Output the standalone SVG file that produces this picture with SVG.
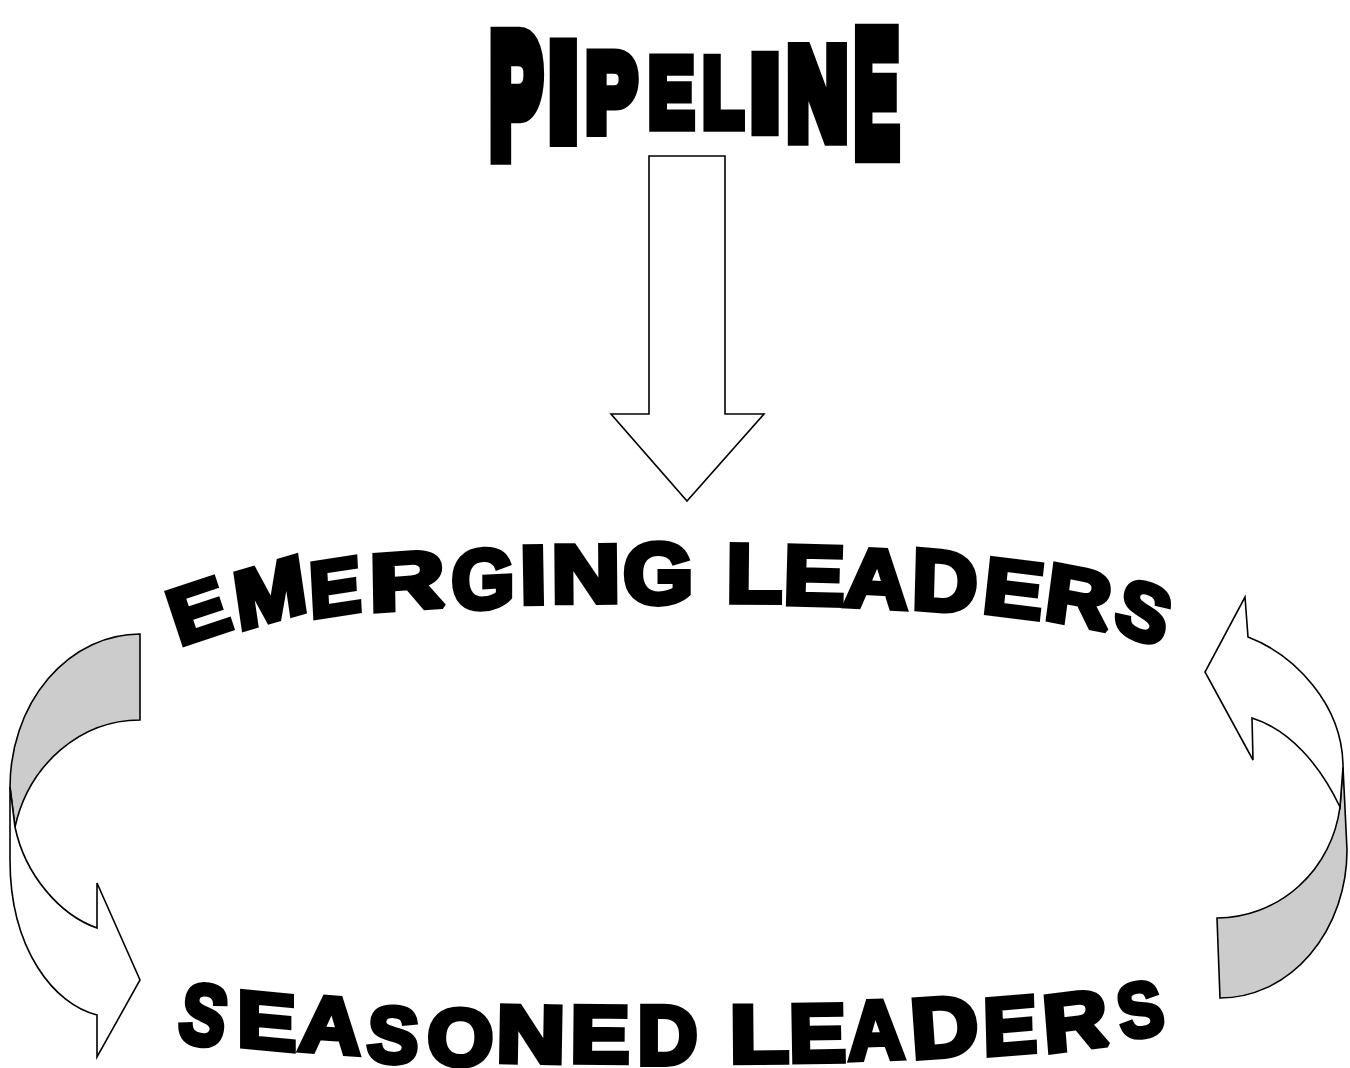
<svg xmlns="http://www.w3.org/2000/svg" width="1350" height="1068" viewBox="0 0 1350 1068">
<style>
.t{font-family:"Liberation Sans",Arial,sans-serif;font-weight:bold;font-size:100px;text-anchor:middle;fill:#000;stroke:#000;stroke-linejoin:miter;stroke-miterlimit:2}
.p{stroke-width:12}
.w{stroke-width:7}
.blk{fill:#fff;stroke:#000;stroke-width:1.6;stroke-linejoin:miter}
.gry{fill:#ccc;stroke:#000;stroke-width:1.6;stroke-linejoin:miter}
</style>
<rect width="1350" height="1068" fill="#fff"/>
<g id="connectors">
  <g id="arrow-down">
    <path class="blk" d="M649,156 H725 V414 H764 L687,501 L611,414 H649 Z"/>
  </g>
  <g id="cycle-left">
    <path class="gry" d="M140,634 A130,153 0 0 0 10,787 L15,827 A128.6,140 0 0 1 140,720 Z"/>
    <path class="blk" d="M10,787 L10,860 C10,950 55,1005 97,1015 L97,1057 L140,980 L97,883 L97,928 C60,915 25,875 15,827 Z"/>
  </g>
  <g id="cycle-right">
    <path class="gry" d="M1343,767 L1347,850 A127,148 0 0 1 1220,998 L1217,918 A124.4,128 0 0 0 1340,807 Z"/>
    <path class="blk" d="M1248,637 C1295,655 1343,705 1343,767 L1340,807 C1320,765 1290,730 1252,718 L1253,760 L1205,672 L1245,597 Z"/>
  </g>
</g>
<g id="pipeline">
  <text class="t p" y="35.8" transform="translate(516 93.5) scale(0.782 1.699)">P</text>
  <text class="t p" y="35.8" transform="translate(563.3 91) scale(1.031 1.352)">I</text>
  <text class="t p" y="35.8" transform="translate(611.3 91.5) scale(0.762 1.094)">P</text>
  <text class="t p" y="35.8" transform="translate(671.3 91.2) scale(0.674 0.969)">E</text>
  <text class="t p" y="35.8" transform="translate(723 91.2) scale(0.656 0.969)">L</text>
  <text class="t p" y="35.8" transform="translate(765 92) scale(1.031 1.053)">I</text>
  <text class="t p" y="35.8" transform="translate(817.5 91.8) scale(0.835 1.286)">N</text>
  <text class="t p" y="35.8" transform="translate(876.7 91) scale(0.663 1.722)">E</text>
</g>
<g id="emerging-leaders">
  <text class="t w" y="35.8" transform="translate(198 610) rotate(-18.4) scale(0.874 0.784)">E</text>
  <text class="t w" y="35.8" transform="translate(270 591.5) rotate(-16.4) skewX(-8) scale(0.88 0.802)">M</text>
  <text class="t w" y="35.8" transform="translate(335 586.5) rotate(-8.8) skewX(-5.8) scale(0.779 0.776)">E</text>
  <text class="t w" y="35.8" transform="translate(407 580) rotate(-4) skewX(-3) scale(1.04 0.802)">R</text>
  <text class="t w" y="35.8" transform="translate(483 578) rotate(-3) skewX(-3) scale(0.809 0.83)">G</text>
  <text class="t w" y="35.8" transform="translate(533.3 574) rotate(-1) scale(0.957 0.818)">I</text>
  <text class="t w" y="35.8" transform="translate(585.8 572.8) rotate(-0.5) scale(0.952 0.818)">N</text>
  <text class="t w" y="35.8" transform="translate(658.3 572.2) scale(0.899 0.85)">G</text>
  <text class="t w" y="35.8" transform="translate(754.2 572.5) rotate(0.5) scale(0.907 0.827)">L</text>
  <text class="t w" y="35.8" transform="translate(814.2 574.5) rotate(1.5) scale(0.912 0.835)">E</text>
  <text class="t w" y="35.8" transform="translate(876.7 577.5) rotate(3) scale(0.884 0.827)">A</text>
  <text class="t w" y="35.8" transform="translate(945 580) rotate(4.5) skewX(3) scale(0.906 0.852)">D</text>
  <text class="t w" y="35.8" transform="translate(1014 587.5) rotate(7.1) skewX(1) scale(0.895 0.789)">E</text>
  <text class="t w" y="35.8" transform="translate(1079 596) rotate(11) skewX(3.5) scale(0.909 0.802)">R</text>
  <text class="t w" y="35.8" transform="translate(1144 611) rotate(21) skewX(5) scale(0.795 0.789)">S</text>
</g>
<g id="seasoned-leaders">
  <text class="t w" y="35.8" transform="translate(204 1014) rotate(10) scale(0.688 0.852)">S</text>
  <text class="t w" y="35.8" transform="translate(266.7 1020) rotate(5.4) skewX(5.4) scale(0.887 0.784)">E</text>
  <text class="t w" y="35.8" transform="translate(330.8 1024) rotate(4) scale(0.859 0.789)">A</text>
  <text class="t w" y="35.8" transform="translate(393.3 1034) rotate(3) scale(0.765 0.789)">S</text>
  <text class="t w" y="35.8" transform="translate(460.5 1036.5) rotate(2) scale(0.847 0.8)">O</text>
  <text class="t w" y="35.8" transform="translate(530.8 1033.3) rotate(1) scale(0.952 0.805)">N</text>
  <text class="t w" y="35.8" transform="translate(600 1033.3) rotate(0.5) scale(0.884 0.805)">E</text>
  <text class="t w" y="35.8" transform="translate(667.5 1033.8) scale(0.831 0.836)">D</text>
  <text class="t w" y="35.8" transform="translate(759.2 1033) rotate(-0.5) scale(0.965 0.814)">L</text>
  <text class="t w" y="35.8" transform="translate(817.3 1032) rotate(-1) scale(0.851 0.814)">E</text>
  <text class="t w" y="35.8" transform="translate(875.8 1029) rotate(-2) scale(0.779 0.83)">A</text>
  <text class="t w" y="35.8" transform="translate(944.2 1026) rotate(-4) scale(0.932 0.84)">D</text>
  <text class="t w" y="35.8" transform="translate(1010 1024.6) rotate(-4.7) skewX(-3.2) scale(0.804 0.8)">E</text>
  <text class="t w" y="35.8" transform="translate(1075 1020) rotate(-7) skewX(-2.5) scale(0.895 0.8)">R</text>
  <text class="t w" y="35.8" transform="translate(1140 1009) rotate(-10) scale(0.673 0.763)">S</text>
</g>
</svg>
